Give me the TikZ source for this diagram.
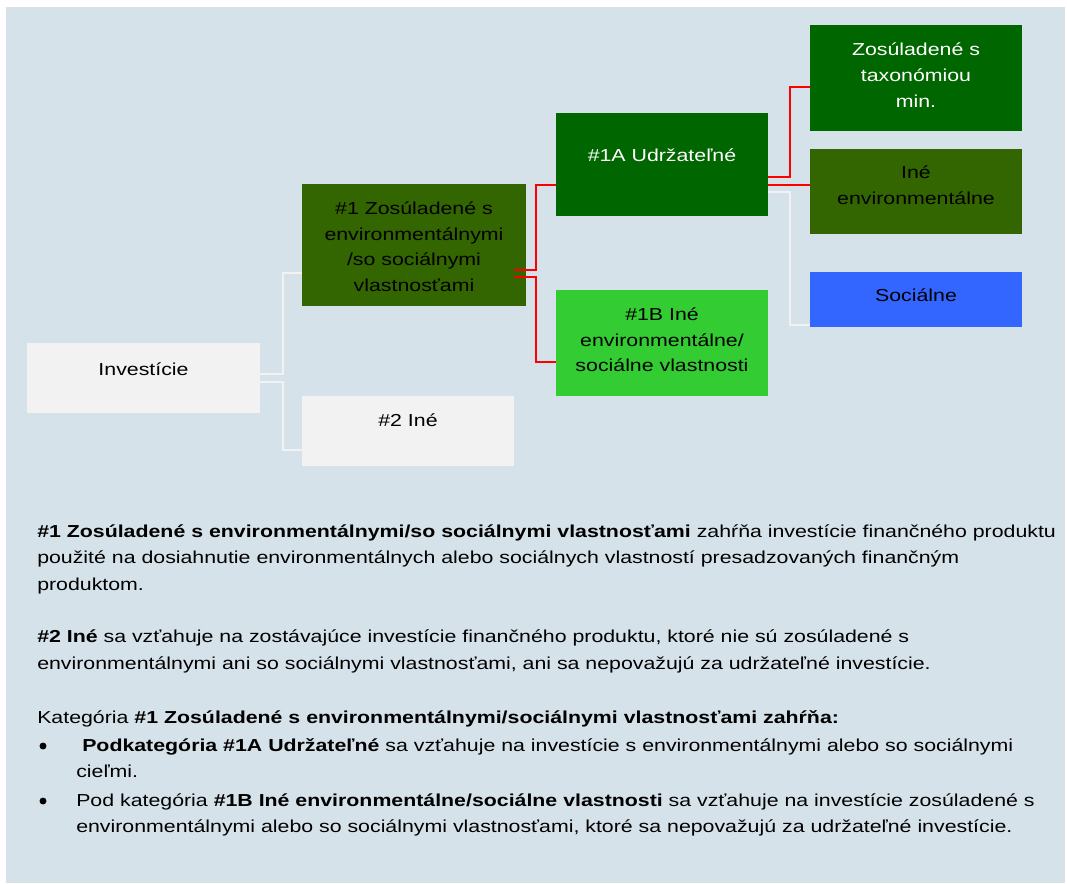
\documentclass[tikz,border=0pt]{standalone}
\usepackage{fontspec}
\setmainfont{Liberation Sans}[FakeStretch=1.23]
\usepackage{xcolor}
\usetikzlibrary{calc,positioning}

\definecolor{panelbg}{HTML}{D6E2EA}
\definecolor{boxgrey}{HTML}{F2F2F2}
\definecolor{boxdark}{HTML}{006600}
\definecolor{boxolive}{HTML}{336600}
\definecolor{boxlight}{HTML}{33CC33}
\definecolor{boxblue}{HTML}{3366FF}
\definecolor{linkred}{HTML}{FF0000}

\tikzset{
  box/.style 2 args={rectangle, inner sep=0pt, minimum width=#1*0.75pt, minimum height=#2*0.75pt},
  boxtext/.style={anchor=base, inner sep=0pt, font=\fontsize{13}{15}\selectfont},
  bodytext/.style={anchor=base west, inner sep=0pt, font=\fontsize{13}{15}\selectfont},
  dot/.style={circle, fill=black, inner sep=0pt, minimum size=5.2pt},
  redlink/.style={draw=linkred, line width=1.5pt},
  greylink/.style={draw=boxgrey, line width=1.5pt}
}

\begin{document}
\begin{tikzpicture}[x=0.75pt,y=-0.75pt]
		\useasboundingbox (0,0) rectangle (1067,883);
		\fill[panelbg] (6,7) rectangle (1065,883);
		% boxes
		\node[box={233}{70}, fill=boxgrey] (inv) at (143.5,378) {};
		\node[box={212}{70}, fill=boxgrey] (oth) at (408,431) {};
		\node[box={224}{122}, fill=boxolive] (g1) at (414,245) {};
		\node[box={212}{103}, fill=boxdark] (g1a) at (662,164.5) {};
		\node[box={212}{106}, fill=boxlight] (g1b) at (662,343) {};
		\node[box={212}{106}, fill=boxdark] (tax) at (916,78) {};
		\node[box={212}{85}, fill=boxolive] (env) at (916,191.5) {};
		\node[box={212}{55}, fill=boxblue] (soc) at (916,299.5) {};
		% box texts
		\node[boxtext] (inv-1) at (143.5,375) {Investície};
		\node[boxtext] (oth-1) at (408,426) {\#2 Iné};
		\node[boxtext] (g1-1) at (414,214) {\#1 Zosúladené s};
		\node[boxtext] (g1-2) at (414,240) {environmentálnymi};
		\node[boxtext] (g1-3) at (414,265.5) {/so sociálnymi};
		\node[boxtext] (g1-4) at (414,291) {vlastnosťami};
		\node[boxtext, white] (g1a-1) at (662,161) {\#1A Udržateľné};
		\node[boxtext] (g1b-1) at (662,320) {\#1B Iné};
		\node[boxtext] (g1b-2) at (662,346) {environmentálne/};
		\node[boxtext] (g1b-3) at (662,371) {sociálne vlastnosti};
		\node[boxtext, white] (tax-1) at (916,55) {Zosúladené s};
		\node[boxtext, white] (tax-2) at (916,81) {taxonómiou};
		\node[boxtext, white] (tax-3) at (916,107.5) {min.};
		\node[boxtext] (env-1) at (916,178.5) {Iné};
		\node[boxtext] (env-2) at (916,204.5) {environmentálne};
		\node[boxtext] (soc-1) at (916,301.5) {Sociálne};
		% connectors
		\draw[greylink] ($(inv.east)+(0,-4)$) -- ++(23,0) |- ($(g1.west)+(0,28)$);
		\draw[greylink] ($(inv.east)+(0,4)$) -- ++(23,0) |- ($(oth.west)+(0,19)$);
		\draw[redlink] ($(g1.east)+(-12,25)$) -- ++(22,0) |- ($(g1a.west)+(0,20.5)$);
		\draw[redlink] ($(g1.east)+(-12,32)$) -- ++(22,0) |- ($(g1b.west)+(0,19)$);
		\draw[redlink] ($(g1a.east)+(0,12.5)$) -- ++(22,0) |- ($(tax.west)+(0,9)$);
		\draw[redlink] ($(g1a.east)+(0,20.5)$) -- ($(env.west)+(0,-6.5)$);
		\draw[greylink] ($(g1a.east)+(0,27.5)$) -- ++(22,0) |- ($(soc.west)+(0,25.5)$);
		% notes below
		\node[bodytext] (p1) at (37,537) {\textbf{\#1 Zosúladené s environmentálnymi/so sociálnymi vlastnosťami} zahŕňa investície finančného produktu};
		\node[bodytext] (p2) at (37,563) {použité na dosiahnutie environmentálnych alebo sociálnych vlastností presadzovaných finančným};
		\node[bodytext] (p3) at (37,590) {produktom.};
		\node[bodytext] (p4) at (37,642) {\textbf{\#2 Iné} sa vzťahuje na zostávajúce investície finančného produktu, ktoré nie sú zosúladené s};
		\node[bodytext] (p5) at (37,669) {environmentálnymi ani so sociálnymi vlastnosťami, ani sa nepovažujú za udržateľné investície.};
		\node[bodytext] (p6) at (37,723) {Kategória \textbf{\#1 Zosúladené s environmentálnymi/sociálnymi vlastnosťami zahŕňa:}};
		\node[dot] (b1) at (43,746) {};
		\node[bodytext] (p7) at (82,751) {\textbf{Podkategória \#1A Udržateľné} sa vzťahuje na investície s environmentálnymi alebo so sociálnymi};
		\node[bodytext] (p8) at (76,777) {cieľmi.};
		\node[dot] (b2) at (43,801) {};
		\node[bodytext] (p9) at (76,806) {Pod kategória \textbf{\#1B Iné environmentálne/sociálne vlastnosti} sa vzťahuje na investície zosúladené s};
		\node[bodytext] (p10) at (76,832) {environmentálnymi alebo so sociálnymi vlastnosťami, ktoré sa nepovažujú za udržateľné investície.};
\end{tikzpicture}
\end{document}
